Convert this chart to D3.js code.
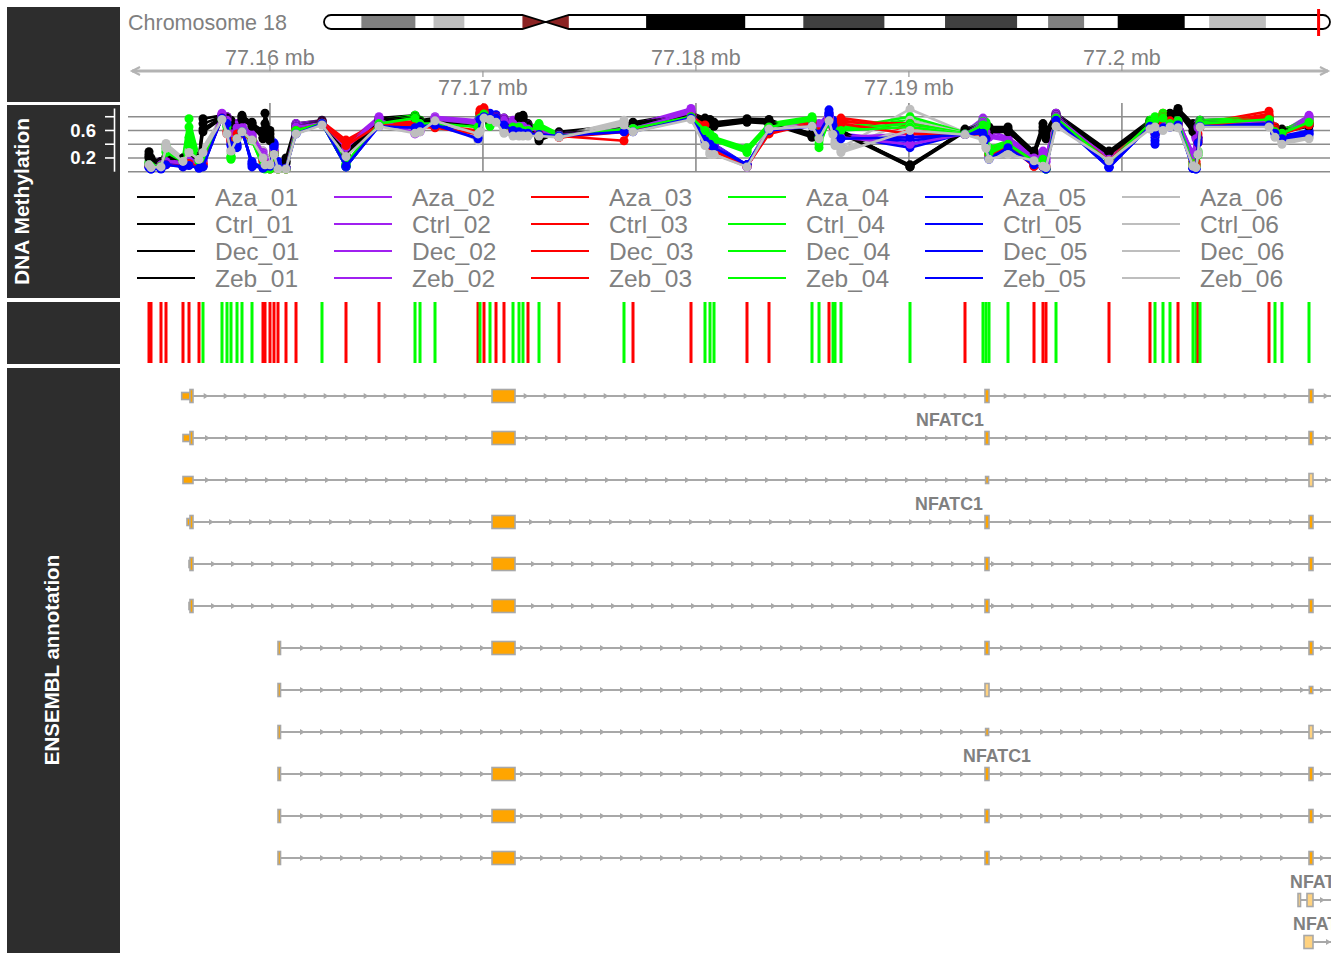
<!DOCTYPE html>
<html><head><meta charset="utf-8">
<script src="https://cdn.jsdelivr.net/npm/d3@7"></script>
<style>body{margin:0;background:#fff;} svg{display:block;font-family:"Liberation Sans",Arial,Helvetica,sans-serif;}</style>
</head><body><svg id="c" width="1344" height="960"></svg>
<script>
// ---------- data ----------
const chromName = "Chromosome 18";
const chromLength = 78.077248; // Mb (hg19)
const bandStart = [0,2.9,7.1,8.5,10.9,15.4,17.2,19.0,25.0,32.7,37.2,43.5,48.2,53.8,56.2,59.0,61.6,66.8,68.7,73.1];
const bandEnd   = [2.9,7.1,8.5,10.9,15.4,17.2,19.0,25.0,32.7,37.2,43.5,48.2,53.8,56.2,59.0,61.6,66.8,68.7,73.1,78.077248];
const bandStain = ["gneg","gpos50","gneg","gpos25","gneg","acen","acen","gneg","gpos100","gneg","gpos75","gneg","gpos75","gneg","gpos50","gneg","gpos100","gneg","gpos25","gneg"];
const regionStart = 77153430, regionEnd = 77209770;
const axisTicks = [77160000,77170000,77180000,77190000,77200000];
const axisLabels = ["77.16 mb","77.17 mb","77.18 mb","77.19 mb","77.2 mb"];

const trackTitles = ["", "DNA Methylation", "", "ENSEMBL annotation"];
const methTicks = [0.2,0.4,0.6,0.8];
const methTickLabels = ["0.2","","0.6",""];

const groups = ["Aza","Ctrl","Dec","Zeb"];
const reps = ["01","02","03","04","05","06"];
const repColors = ["#000000","#A020F0","#FF0000","#00FF00","#0000FF","#BEBEBE"];

const cpgPos = [77154322,77154416,77154885,77155120,77155918,77156200,77156670,77156857,77157749,77157984,
77158172,77158454,77158688,77159158,77159674,77159768,77160003,77160191,77160379,77160754,
77161224,77162444,77163571,77165121,77166811,77167046,77167750,77169769,77169863,77170050,
77170332,77170614,77170989,77171412,77171694,77171881,77172116,77172633,77173572,77176623,
77177046,77179769,77180426,77180661,77180849,77182398,77183431,77185450,77185779,77186248,
77186436,77186530,77186811,77190051,77192633,77193478,77193619,77193760,77194652,77195873,
77196295,77196436,77196906,77199394,77201319,77201554,77201929,77202258,77202634,77203338,
77203479,77203573,77203667,77206906,77207188,77207516,77208784];
// 1 = hyper (red), -1 = hypo (green)
const dmcDirection = [1,1,1,1,1,1,1,-1,-1,-1, -1,-1,-1,-1,1,1,1,1,1,1, 1,-1,1,1,-1,-1,-1,1,-1,1,
-1,1,1,-1,-1,-1,1,-1,1,-1, 1,1,-1,-1,-1,1,1,-1,-1,1, -1,-1,-1,-1,1,-1,-1,-1,-1,1,
1,1,-1,1,1,-1,-1,-1,1,-1, -1,1,-1,1,-1,-1,-1];

const aza01=[.29,.2,.15,.2,.2,.25,.2,.77,.82,.8,.75,.7,.82,.7,.6,.85,.6,.3,.1,.2,.7,.75,.3,.78,.82,.75,.78,.7,.8,.85,.75,.8,.78,.72,.8,.82,.7,.45,.58,.68,.72,.86,.78,.76,.72,.77,.76,.55,.6,.75,.7,.65,.6,.07,.62,.72,.7,.65,.65,.3,.7,.6,.85,.3,.75,.7,.8,.85,.92,.7,.6,.7,.75,.78,.65,.62,.72];
const aza02=[.12,.08,.15,.2,.15,.2,.15,.2,.85,.8,.6,.7,.7,.55,.3,.2,.1,.4,.1,.05,.7,.74,.4,.8,.55,.6,.8,.75,.85,.9,.8,.82,.78,.75,.7,.72,.68,.65,.55,.65,.68,.92,.65,.5,.4,.07,.65,.72,.7,.85,.7,.6,.55,.45,.58,.78,.65,.6,.5,.25,.3,.2,.85,.2,.7,.6,.8,.75,.8,.15,.6,.7,.75,.78,.6,.58,.82];
const aza03=[.12,.1,.1,.15,.1,.15,.12,.15,.8,.6,.5,.6,.6,.5,.2,.1,.05,.3,.05,.05,.65,.73,.46,.72,.73,.7,.68,.6,.9,.93,.8,.82,.7,.65,.65,.6,.6,.6,.52,.45,.65,.85,.75,.45,.35,.1,.6,.75,.65,.8,.7,.7,.78,.65,.57,.6,.55,.3,.45,.1,.1,.08,.8,.2,.72,.62,.85,.8,.75,.2,.15,.55,.7,.88,.65,.6,.75];
const aza04=[.15,.1,.12,.38,.2,.77,.2,.3,.8,.7,.22,.55,.65,.5,.1,.05,.05,.3,.05,.05,.65,.72,.1,.75,.82,.75,.75,.7,.85,.88,.7,.8,.7,.7,.7,.65,.65,.7,.55,.65,.68,.85,.65,.55,.5,.35,.7,.8,.35,.75,.7,.65,.65,.75,.58,.75,.72,.35,.45,.2,.25,.05,.82,.18,.75,.8,.85,.75,.8,.15,.1,.3,.75,.8,.62,.6,.78];
const aza05=[.1,.05,.05,.15,.1,.12,.07,.1,.82,.75,.45,.4,.65,.07,.07,.1,.1,.4,.15,.06,.6,.72,.07,.7,.68,.7,.72,.55,.8,.85,.85,.83,.72,.65,.62,.6,.6,.58,.55,.62,.62,.82,.5,.45,.4,.1,.65,.7,.6,.9,.75,.6,.55,.4,.57,.62,.55,.25,.4,.15,.1,.05,.8,.07,.7,.4,.7,.7,.75,.05,.05,.5,.7,.72,.6,.52,.6];
const aza06=[.15,.08,.08,.41,.2,.35,.25,.35,.8,.6,.27,.55,.65,.55,.3,.15,.2,.3,.05,.05,.6,.7,.22,.7,.6,.62,.78,.45,.6,.85,.8,.75,.6,.55,.55,.55,.55,.55,.52,.75,.62,.8,.45,.3,.3,.07,.68,.7,.55,.8,.6,.45,.35,.91,.57,.5,.4,.25,.3,.2,.1,.08,.7,.2,.65,.7,.65,.7,.7,.1,.1,.3,.7,.7,.55,.45,.55];
const ctrl01=[.25,.18,.15,.22,.18,.22,.2,.7,.8,.78,.72,.68,.8,.72,.55,.7,.55,.28,.1,.15,.68,.74,.28,.76,.8,.74,.76,.68,.78,.83,.74,.78,.76,.7,.78,.8,.68,.5,.56,.66,.7,.84,.76,.74,.7,.75,.74,.55,.62,.74,.68,.64,.6,.08,.6,.7,.68,.62,.62,.28,.65,.55,.83,.28,.73,.68,.78,.82,.9,.65,.58,.68,.73,.76,.63,.6,.7];
const ctrl02=[.1,.08,.12,.18,.15,.18,.12,.18,.83,.78,.58,.68,.68,.55,.28,.18,.1,.35,.08,.05,.68,.73,.38,.78,.6,.62,.78,.72,.82,.88,.78,.8,.76,.72,.68,.7,.66,.64,.55,.64,.66,.9,.62,.48,.4,.08,.64,.7,.68,.82,.68,.58,.52,.5,.57,.75,.62,.55,.48,.22,.28,.18,.83,.2,.68,.58,.78,.73,.78,.2,.55,.66,.73,.76,.58,.56,.8];
const ctrl03=[.1,.08,.1,.12,.08,.12,.1,.12,.78,.58,.48,.58,.58,.48,.18,.1,.05,.28,.05,.05,.63,.72,.42,.7,.7,.68,.66,.58,.86,.9,.78,.8,.68,.63,.63,.58,.58,.58,.52,.6,.63,.83,.72,.42,.33,.1,.58,.73,.62,.78,.68,.68,.75,.6,.56,.58,.52,.28,.42,.1,.1,.06,.78,.18,.7,.6,.82,.78,.72,.15,.12,.5,.68,.84,.63,.58,.72];
const ctrl04=[.12,.1,.1,.34,.18,.65,.18,.28,.78,.68,.22,.52,.62,.48,.1,.05,.05,.28,.05,.05,.63,.71,.12,.73,.8,.73,.74,.68,.82,.86,.68,.78,.68,.68,.68,.63,.63,.68,.54,.64,.66,.83,.63,.55,.48,.32,.68,.78,.4,.73,.68,.63,.63,.8,.57,.73,.7,.3,.43,.18,.22,.05,.8,.16,.73,.78,.82,.73,.78,.12,.1,.28,.73,.78,.6,.58,.76];
const ctrl05=[.08,.05,.05,.12,.08,.1,.06,.08,.8,.73,.42,.38,.62,.1,.06,.08,.1,.42,.12,.05,.58,.71,.07,.68,.66,.68,.7,.52,.78,.83,.82,.8,.7,.63,.6,.58,.58,.56,.54,.6,.6,.8,.48,.43,.38,.1,.63,.68,.58,.86,.72,.58,.52,.35,.56,.6,.52,.22,.38,.12,.08,.05,.78,.07,.68,.45,.68,.68,.72,.05,.05,.48,.68,.7,.58,.5,.58];
const ctrl06=[.12,.08,.1,.38,.18,.32,.22,.32,.78,.58,.3,.52,.62,.5,.25,.12,.15,.28,.05,.05,.58,.7,.25,.68,.6,.6,.76,.5,.62,.82,.78,.74,.6,.55,.54,.54,.54,.54,.52,.72,.6,.78,.42,.28,.28,.07,.66,.68,.52,.78,.58,.42,.32,.75,.56,.5,.38,.22,.28,.18,.1,.07,.68,.18,.64,.68,.64,.68,.68,.1,.08,.28,.68,.68,.54,.44,.52];
const dec01=[.22,.15,.12,.18,.2,.25,.22,.62,.8,.78,.7,.65,.78,.68,.5,.6,.5,.25,.08,.15,.66,.73,.25,.75,.8,.73,.75,.66,.76,.82,.72,.77,.75,.68,.76,.78,.66,.48,.55,.64,.7,.83,.74,.72,.68,.74,.72,.52,.6,.72,.66,.62,.58,.1,.6,.7,.66,.6,.6,.25,.6,.5,.82,.27,.72,.66,.76,.8,.88,.6,.55,.66,.72,.75,.62,.6,.68];
const dec02=[.08,.06,.1,.16,.12,.18,.12,.16,.84,.76,.55,.66,.66,.52,.25,.15,.08,.32,.08,.05,.66,.72,.36,.77,.58,.6,.77,.72,.8,.86,.76,.8,.75,.7,.68,.68,.64,.62,.54,.62,.64,.88,.6,.46,.38,.07,.62,.7,.66,.8,.66,.56,.5,.55,.56,.72,.6,.52,.46,.22,.25,.15,.82,.18,.66,.56,.76,.72,.76,.25,.5,.65,.72,.75,.57,.55,.78];
const dec03=[.1,.08,.08,.12,.1,.14,.1,.12,.8,.58,.46,.56,.56,.46,.16,.08,.05,.26,.05,.05,.62,.72,.4,.7,.7,.66,.65,.57,.85,.88,.76,.8,.68,.62,.62,.57,.56,.57,.5,.6,.62,.82,.7,.4,.32,.08,.56,.72,.6,.76,.66,.66,.72,.7,.55,.56,.5,.25,.4,.08,.08,.05,.78,.18,.7,.58,.8,.76,.7,.1,.1,.45,.66,.82,.62,.57,.7];
const dec04=[.12,.08,.1,.3,.16,.5,.16,.25,.78,.66,.2,.5,.6,.46,.08,.05,.04,.26,.04,.04,.62,.7,.1,.72,.8,.72,.72,.67,.8,.85,.67,.77,.67,.66,.66,.62,.62,.66,.53,.63,.65,.82,.62,.52,.46,.3,.66,.76,.45,.72,.67,.62,.62,.7,.56,.7,.68,.28,.42,.16,.2,.04,.8,.15,.72,.76,.8,.72,.76,.1,.08,.26,.72,.77,.6,.57,.74];
const dec05=[.07,.04,.05,.12,.08,.1,.06,.08,.8,.72,.4,.36,.6,.12,.06,.08,.09,.38,.12,.05,.57,.7,.08,.67,.65,.67,.7,.5,.77,.82,.8,.8,.7,.62,.6,.57,.57,.55,.53,.6,.6,.8,.47,.42,.36,.1,.62,.67,.56,.84,.7,.56,.5,.45,.55,.58,.5,.2,.36,.12,.08,.04,.77,.06,.67,.5,.66,.66,.7,.05,.04,.45,.67,.7,.57,.5,.56];
const dec06=[.1,.07,.08,.36,.16,.3,.2,.3,.78,.56,.32,.5,.6,.48,.22,.12,.12,.26,.05,.04,.57,.69,.24,.68,.58,.6,.75,.52,.6,.8,.77,.73,.58,.54,.53,.53,.53,.53,.51,.7,.6,.77,.4,.26,.26,.07,.64,.67,.5,.76,.56,.4,.3,.65,.55,.48,.36,.2,.26,.17,.09,.06,.67,.17,.63,.66,.62,.66,.66,.09,.07,.26,.66,.66,.52,.42,.5];
const zeb01=[.2,.15,.12,.2,.18,.22,.2,.58,.78,.76,.68,.64,.76,.66,.48,.5,.45,.25,.08,.12,.65,.72,.24,.74,.78,.72,.74,.65,.75,.8,.7,.75,.73,.67,.75,.76,.65,.5,.54,.63,.68,.82,.72,.7,.66,.72,.7,.5,.58,.7,.65,.6,.56,.07,.58,.68,.64,.58,.58,.25,.58,.48,.8,.25,.7,.65,.74,.78,.86,.58,.52,.64,.7,.74,.6,.58,.66];
const zeb02=[.1,.07,.1,.15,.12,.16,.1,.15,.82,.75,.52,.64,.64,.5,.22,.15,.08,.3,.06,.05,.65,.71,.35,.76,.56,.58,.76,.7,.78,.85,.75,.78,.74,.7,.66,.66,.62,.6,.53,.62,.63,.86,.6,.45,.36,.07,.6,.68,.65,.78,.65,.55,.5,.4,.55,.7,.58,.5,.45,.2,.24,.14,.8,.18,.65,.55,.75,.7,.74,.28,.48,.64,.7,.74,.56,.54,.76];
const zeb03=[.08,.06,.08,.1,.08,.12,.08,.1,.78,.55,.44,.55,.55,.45,.15,.08,.04,.25,.04,.04,.6,.7,.38,.68,.68,.65,.64,.55,.84,.86,.75,.78,.66,.6,.6,.55,.55,.55,.5,.58,.6,.8,.68,.38,.3,.08,.55,.7,.58,.75,.65,.64,.7,.55,.54,.55,.48,.24,.38,.08,.07,.05,.76,.16,.68,.56,.78,.74,.68,.08,.08,.42,.65,.8,.6,.55,.68];
const zeb04=[.1,.08,.08,.28,.15,.4,.15,.22,.76,.65,.18,.48,.58,.45,.08,.04,.04,.25,.04,.04,.6,.7,.08,.7,.78,.7,.7,.65,.78,.84,.66,.75,.66,.65,.65,.6,.6,.65,.52,.62,.63,.8,.6,.5,.45,.28,.65,.75,.5,.7,.66,.6,.6,.65,.55,.68,.66,.26,.4,.15,.18,.04,.78,.14,.7,.75,.78,.7,.74,.08,.06,.24,.7,.76,.58,.56,.72];
const zeb05=[.06,.04,.04,.1,.07,.09,.05,.07,.78,.7,.38,.35,.58,.15,.05,.07,.08,.36,.1,.05,.55,.7,.08,.66,.64,.66,.68,.48,.76,.8,.78,.78,.68,.6,.58,.56,.56,.54,.52,.58,.58,.78,.45,.4,.35,.1,.6,.66,.55,.82,.68,.55,.48,.5,.54,.56,.48,.18,.35,.1,.07,.04,.75,.06,.66,.55,.64,.65,.68,.05,.04,.42,.66,.68,.56,.48,.54];
const zeb06=[.1,.06,.07,.34,.15,.28,.18,.28,.76,.55,.3,.48,.58,.46,.2,.1,.1,.25,.04,.04,.55,.68,.22,.66,.56,.58,.74,.55,.58,.78,.76,.72,.56,.52,.52,.52,.52,.52,.5,.68,.58,.76,.38,.25,.25,.07,.62,.66,.48,.74,.54,.38,.28,.6,.54,.46,.34,.18,.25,.16,.08,.06,.66,.16,.62,.65,.6,.65,.64,.08,.06,.25,.65,.65,.5,.4,.48];

// ENSEMBL transcripts (kinds: c = coding, u = UTR, n = non-coding)
const txStart = [77155857,77155918,77155918,77156106,77156200,77156200,77160379,77160379,77160379,77160379,77160379,77160379,77208268,77208549];
const txEnd   = [77215000,77215000,77215000,77215000,77215000,77215000,77215000,77215000,77215000,77215000,77215000,77215000,77215000,77215000];
const txExons = [
 [[77155857,77156247,"u"],[77156247,77156388,"c"],[77170426,77171506,"c"],[77193572,77193760,"c"],[77208784,77208972,"c"]],
 [[77155918,77156247,"u"],[77156247,77156388,"c"],[77170426,77171506,"c"],[77193572,77193760,"c"],[77208784,77208972,"c"]],
 [[77155918,77156388,"u"],[77193600,77193740,"u"],[77208784,77208972,"n"]],
 [[77156106,77156247,"u"],[77156247,77156388,"c"],[77170426,77171506,"c"],[77193572,77193760,"c"],[77208784,77208972,"c"]],
 [[77156200,77156247,"u"],[77156247,77156388,"c"],[77170426,77171506,"c"],[77193572,77193760,"c"],[77208784,77208972,"c"]],
 [[77156200,77156247,"u"],[77156247,77156388,"c"],[77170426,77171506,"c"],[77193572,77193760,"c"],[77208784,77208972,"c"]],
 [[77160379,77160473,"c"],[77170426,77171506,"c"],[77193572,77193760,"c"],[77208784,77208972,"c"]],
 [[77160379,77160473,"c"],[77193572,77193760,"n"],[77208800,77208960,"u"]],
 [[77160379,77160473,"c"],[77193600,77193740,"u"],[77208784,77208972,"n"]],
 [[77160379,77160473,"c"],[77170426,77171506,"c"],[77193572,77193760,"c"],[77208784,77208972,"c"]],
 [[77160379,77160473,"c"],[77170426,77171506,"c"],[77193572,77193760,"c"],[77208784,77208972,"c"]],
 [[77160379,77160473,"c"],[77170426,77171506,"c"],[77193572,77193760,"c"],[77208784,77208972,"c"]],
 [[77208268,77208380,"n"],[77208690,77208972,"n"]],
 [[77208549,77208972,"n"]]
];
const geneLabel = "NFATC1";
const labelRows = [1,3,9,12,13];
const labelPos = [77191929,77191882,77194136,77209488,77209629];

// ---------- drawing ----------
const svg = d3.select("#c");
const x = d3.scaleLinear().domain([regionStart, regionEnd]).range([130, 1330]);
const grey = "#808080";

// title panels
const panelTop = [7, 105, 302, 368], panelBot = [102, 298, 364, 953];
svg.selectAll("rect.panel").data(trackTitles).join("rect")
  .attr("x", 7).attr("width", 113)
  .attr("y", (d,i)=>panelTop[i]).attr("height", (d,i)=>panelBot[i]-panelTop[i])
  .attr("fill", "#2D2D2D");
svg.append("text").text(trackTitles[1]).attr("transform","translate(29,201.5) rotate(-90)")
  .attr("text-anchor","middle").attr("fill","#fff").attr("font-weight","bold").attr("font-size",21);
svg.append("text").text(trackTitles[3]).attr("transform","translate(59,660) rotate(-90)")
  .attr("text-anchor","middle").attr("fill","#fff").attr("font-weight","bold").attr("font-size",20.5);

// ideogram
svg.append("text").text(chromName).attr("x",128).attr("y",29.5).attr("fill",grey).attr("font-size",21.5);
const xi = d3.scaleLinear().domain([0, chromLength]).range([324, 1330]);
const iy0 = 15, iy1 = 29, imid = 22, r = 7;
const cenL = xi(15.4), cenM = xi(17.2), cenR = xi(19.0);
const ideoPath = `M${324+r},${iy0} L${cenL},${iy0} L${cenM},${imid} L${cenR},${iy0} L${1330-r},${iy0}
  A${r},${r} 0 0 1 ${1330-r},${iy1} L${cenR},${iy1} L${cenM},${imid} L${cenL},${iy1} L${324+r},${iy1}
  A${r},${r} 0 0 1 ${324+r},${iy0} Z`;
svg.append("clipPath").attr("id","ideo").append("path").attr("d", ideoPath);
const stainColor = {gneg:"#FFFFFF", gpos25:"#BEBEBE", gpos50:"#808080", gpos75:"#404040", gpos100:"#000000", acen:"#8B2323"};
svg.append("g").attr("clip-path","url(#ideo)").selectAll("rect").data(bandStart).join("rect")
  .attr("x", d=>xi(d)).attr("width",(d,i)=>xi(bandEnd[i])-xi(d)+0.3)
  .attr("y", iy0).attr("height", iy1-iy0).attr("fill",(d,i)=>stainColor[bandStain[i]]);
svg.append("path").attr("d", ideoPath).attr("fill","none").attr("stroke","#000").attr("stroke-width",1.8);
svg.append("rect").attr("x", xi(regionStart/1e6)).attr("width", Math.max(1, xi(regionEnd/1e6)-xi(regionStart/1e6)))
  .attr("y", 10).attr("height", 25).attr("fill","none").attr("stroke","#FF0000").attr("stroke-width",2);

// genome axis
const axY = 71;
const axG = svg.append("g");
axG.append("line").attr("x1", 132).attr("x2", 1328).attr("y1", axY).attr("y2", axY).attr("stroke","#B3B3B3").attr("stroke-width",3);
axG.append("path").attr("d", `M${140},${axY-4} L${132},${axY} L${140},${axY+4}`).attr("fill","none").attr("stroke","#B3B3B3").attr("stroke-width",2);
axG.append("path").attr("d", `M${1320},${axY-4} L${1328},${axY} L${1320},${axY+4}`).attr("fill","none").attr("stroke","#B3B3B3").attr("stroke-width",2);
axisTicks.forEach((t,i)=>{
  const up = i % 2 === 0;
  axG.append("line").attr("x1", x(t)).attr("x2", x(t)).attr("y1", axY).attr("y2", up ? axY-6 : axY+6)
    .attr("stroke","#999").attr("stroke-width",1.2);
  axG.append("text").text(axisLabels[i]).attr("x", x(t)).attr("y", up ? 64.5 : 94.5)
    .attr("text-anchor","middle").attr("fill",grey).attr("font-size",21.5);
});

// methylation track
const yM = d3.scaleLinear().domain([0,1]).range([171.7, 103]);
const mG = svg.append("g");
[0,0.2,0.4,0.6,0.8].forEach(v=>{
  mG.append("line").attr("x1",128).attr("x2",1330).attr("y1",yM(v)).attr("y2",yM(v)).attr("stroke","#8C8C8C").attr("stroke-width",1.6);
});
axisTicks.forEach(t=>{
  mG.append("line").attr("x1",x(t)).attr("x2",x(t)).attr("y1",103).attr("y2",yM(0)).attr("stroke","#8C8C8C").attr("stroke-width",1.6);
});
// y axis
const yAx = svg.append("g");
yAx.append("line").attr("x1",114.5).attr("x2",114.5).attr("y1",yM(0.92)).attr("y2",yM(0)).attr("stroke","#fff").attr("stroke-width",1.6);
methTicks.forEach((v,i)=>{
  yAx.append("line").attr("x1",105).attr("x2",114.5).attr("y1",yM(v)).attr("y2",yM(v)).attr("stroke","#fff").attr("stroke-width",1.6);
  if (methTickLabels[i]) yAx.append("text").text(methTickLabels[i]).attr("x",96).attr("y",yM(v)+6.5)
    .attr("text-anchor","end").attr("fill","#fff").attr("font-weight","bold").attr("font-size",18.5);
});

const seriesVals = [aza01,aza02,aza03,aza04,aza05,aza06, ctrl01,ctrl02,ctrl03,ctrl04,ctrl05,ctrl06,
                    dec01,dec02,dec03,dec04,dec05,dec06, zeb01,zeb02,zeb03,zeb04,zeb05,zeb06];
const line = d3.line().x((d,i)=>x(cpgPos[i])).y(d=>yM(d));
seriesVals.forEach((vals, s)=>{
  const col = repColors[s % 6];
  mG.append("path").attr("d", line(vals)).attr("fill","none").attr("stroke",col).attr("stroke-width",2.6).attr("stroke-linejoin","round");
  mG.selectAll(null).data(vals).join("circle").attr("cx",(d,i)=>x(cpgPos[i])).attr("cy",d=>yM(d)).attr("r",4.5).attr("fill",col);
});

// legend
const lg = svg.append("g");
groups.forEach((g,gi)=>{
  reps.forEach((rp,ri)=>{
    const lx = 137 + 197*ri, ly = 197 + 27*gi;
    lg.append("line").attr("x1",lx).attr("x2",lx+58).attr("y1",ly).attr("y2",ly).attr("stroke",repColors[ri]).attr("stroke-width",2);
    lg.append("text").text(`${g}_${rp}`).attr("x",lx+78).attr("y",ly+8.8).attr("fill",grey).attr("font-size",24.5);
  });
});

// DMC track
svg.append("g").selectAll("rect").data(cpgPos).join("rect")
  .attr("x", d=>x(d)-1.5).attr("width",3).attr("y",302).attr("height",61)
  .attr("fill",(d,i)=>dmcDirection[i] > 0 ? "#FF0000" : "#00FF00");

// gene track
svg.append("clipPath").attr("id","gclip").append("rect").attr("x",0).attr("y",370).attr("width",1331).attr("height",590);
const gG = svg.append("g").attr("clip-path","url(#gclip)");
const rowY = i => 396 + 42*i;
const lineCol = "#A8A8A8";
txStart.forEach((s,i)=>{
  const y = rowY(i);
  const x0 = x(s), x1 = Math.min(x(txEnd[i]), 1332);
  gG.append("line").attr("x1",x0).attr("x2",x1).attr("y1",y).attr("y2",y).attr("stroke",lineCol).attr("stroke-width",2);
  // strand arrows
  const ex = txExons[i].map(e=>[x(e[0]), x(e[1])]);
  for (let ax = x0 + 25; ax < 1331; ax += 20) {
    if (ex.some(e => ax > e[0]-6 && ax < e[1]+3)) continue;
    gG.append("path").attr("d", `M${ax-3},${y-3} L${ax+2},${y} L${ax-3},${y+3} Z`).attr("fill",lineCol);
  }
  txExons[i].forEach(e=>{
    const h = e[2] === "u" ? 7 : 13;
    const w = Math.max(x(e[1]) - x(e[0]), 2.5);
    gG.append("rect").attr("x", x(e[0])).attr("width", w).attr("y", y - h/2).attr("height", h)
      .attr("fill", e[2] === "n" ? "#FFD27F" : "#FFA500").attr("stroke","#A8A8A8").attr("stroke-width",1.6);
  });
});
labelRows.forEach((ri,k)=>{
  gG.append("text").text(geneLabel).attr("x", x(labelPos[k])).attr("y", rowY(ri) - 18 + 6.4)
    .attr("text-anchor","middle").attr("fill",grey).attr("font-weight","bold").attr("font-size",17.8);
});
</script></body></html>
